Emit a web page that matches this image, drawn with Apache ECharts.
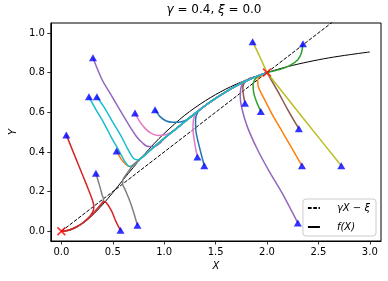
<!DOCTYPE html>
<html><head><meta charset="utf-8">
<script src="https://cdn.jsdelivr.net/npm/echarts@6/dist/echarts.min.js"></script>
<style>html,body{margin:0;padding:0;background:#fff}#c{width:388px;height:281px}</style>
</head><body><div id="c"></div>
<script>
// axis ticks
const xTicks = [0, 0.5, 1.0, 1.5, 2.0, 2.5, 3.0];
const yTicks = [0, 0.2, 0.4, 0.6, 0.8, 1.0];
const xRange = [-0.103, 3.109];
const yRange = [-0.049, 1.05];

// f(X)
const fX = [0, 0.1, 0.2, 0.3, 0.4, 0.5, 0.6, 0.7, 0.8, 0.9, 1.0, 1.2, 1.4, 1.6, 1.8, 2.0, 2.2, 2.4, 2.6, 2.8, 3.0];
const fY = [0, 0.010, 0.037, 0.080, 0.134, 0.195, 0.259, 0.322, 0.383, 0.441, 0.493, 0.585, 0.658, 0.717, 0.763, 0.800, 0.830, 0.854, 0.874, 0.890, 0.904];

// gamma X - xi
const lineX = [0, 3.0];
const lineY = [0, 1.2];

// shared paths the trajectories settle onto
const upperPath = [[0.60,0.262],[0.65,0.30],[0.7,0.335],[0.8,0.38],[0.9,0.425],[1.0,0.468],[1.1,0.51],[1.2,0.552],[1.3,0.594],[1.4,0.634],[1.5,0.67],[1.6,0.703],[1.7,0.733],[1.8,0.759],[1.9,0.781],[2.0,0.8]];
const lowerPath = [[0.41,0.152],[0.36,0.12],[0.31,0.09],[0.26,0.065],[0.21,0.043],[0.16,0.026],[0.11,0.013],[0.06,0.004],[0,0]];

// trajectories (own part, before joining a shared path)
const tBlue1   = [[0.911,0.613],[0.96,0.578],[1.02,0.556],[1.08,0.55],[1.14,0.55],[1.2,0.557],[1.26,0.575]];
const tOrange1 = [[0.537,0.405],[0.58,0.365],[0.625,0.338],[0.665,0.326]];
const tGreen1  = [[2.35,0.946],[2.335,0.9],[2.3,0.865],[2.22,0.835],[2.12,0.815],[2.0,0.8]];
const tRed1    = [[0.048,0.486],[0.15,0.355],[0.252,0.225],[0.3,0.16],[0.316,0.125],[0.305,0.098]];
const tPurple1 = [[0.307,0.875],[0.396,0.764],[0.48,0.69],[0.56,0.62],[0.64,0.55],[0.73,0.478],[0.79,0.445],[0.844,0.427],[0.9,0.427],[0.95,0.44]];
const tBrown1  = [[2.31,0.517],[2.2,0.615],[2.1,0.71],[2.0,0.8]];
const tPink1   = [[0.716,0.596],[0.76,0.555],[0.812,0.52],[0.87,0.495],[0.94,0.483],[1.0,0.485],[1.06,0.497],[1.12,0.518],[1.2,0.552]];
const tGray1   = [[0.336,0.293],[0.36,0.25],[0.38,0.215],[0.395,0.185],[0.41,0.16]];
const tOlive1  = [[1.86,0.956],[1.93,0.88],[2.0,0.8]];
const tCyan1   = [[0.268,0.678],[0.34,0.61],[0.412,0.547],[0.49,0.47],[0.556,0.41],[0.62,0.35],[0.665,0.326]];
const tBlue2   = [[1.39,0.33],[1.345,0.42],[1.31,0.5],[1.305,0.56],[1.33,0.603],[1.4,0.634]];
const tOrange2 = [[2.34,0.33],[2.24,0.42],[2.14,0.51],[2.06,0.58],[2.0,0.64],[1.95,0.69],[1.915,0.73],[1.91,0.76],[1.94,0.785],[2.0,0.8]];
const tGreen2  = [[1.94,0.604],[1.9,0.65],[1.87,0.7],[1.865,0.74],[1.89,0.77],[1.94,0.788],[2.0,0.8]];
const tRed2    = [[0.575,0.005],[0.53,0.05],[0.49,0.1],[0.45,0.135],[0.42,0.15]];
const tPurple2 = [[2.30,0.042],[2.15,0.19],[2.013,0.31],[1.9,0.42],[1.81,0.525],[1.76,0.61],[1.74,0.68],[1.75,0.73],[1.79,0.758]];
const tBrown2  = [[1.786,0.646],[1.77,0.69],[1.765,0.725],[1.785,0.752],[1.83,0.77]];
const tPink2   = [[1.323,0.375],[1.295,0.45],[1.28,0.52],[1.29,0.575],[1.33,0.61],[1.4,0.634]];
const tGray2   = [[0.74,0.03],[0.7,0.1],[0.66,0.16],[0.62,0.21],[0.595,0.24],[0.6,0.262]];
const tOlive2  = [[2.723,0.33],[2.36,0.565],[2.0,0.8]];
const tCyan2   = [[0.345,0.678],[0.412,0.628],[0.5,0.55],[0.585,0.476],[0.65,0.41],[0.70,0.368],[0.74,0.36],[0.8,0.378]];

const endPoints = [[0,0],[2.0,0.8]];

const colors = ['#1f77b4','#ff7f0e','#2ca02c','#d62728','#9467bd','#8c564b','#e377c2','#7f7f7f','#bcbd22','#17becf'];
// [own points, which shared path: 'up', 'low' or null]
const trajList = [
  [tBlue1,'up'],[tOrange1,'up'],[tGreen1,null],[tRed1,'low'],[tPurple1,'up'],
  [tBrown1,null],[tPink1,'up'],[tGray1,'low'],[tOlive1,null],[tCyan1,'up'],
  [tBlue2,'up'],[tOrange2,null],[tGreen2,null],[tRed2,'low'],[tPurple2,'up'],
  [tBrown2,'up'],[tPink2,'up'],[tGray2,'up'],[tOlive2,null],[tCyan2,'up']
];

function fullPath(own, kind) {
  const last = own[own.length - 1];
  let rest = [];
  if (kind === 'up') rest = upperPath.filter(p => p[0] > last[0] + 0.04);
  else if (kind === 'low') rest = lowerPath.filter(p => p[0] < last[0] - 0.03);
  return own.concat(rest);
}

const FONT = 'DejaVu Sans';
const series = [];
series.push({
  name: 'γX − ξ', type: 'line', data: lineX.map((x, i) => [x, lineY[i]]),
  symbol: 'none', itemStyle: {color: 'rgba(0,0,0,0)', borderWidth: 0},
  lineStyle: {color: '#000', width: 1, type: [3.7, 1.6]}, z: 2, silent: true
});
series.push({
  name: 'f(X)', type: 'line', data: fX.map((x, i) => [x, fY[i]]),
  symbol: 'none', smooth: 0.3, itemStyle: {color: 'rgba(0,0,0,0)', borderWidth: 0},
  lineStyle: {color: '#000', width: 1}, z: 2, silent: true
});
trajList.forEach((t, i) => {
  series.push({
    type: 'line', data: fullPath(t[0], t[1]), symbol: 'none', smooth: 0.3,
    lineStyle: {color: colors[i % 10], width: 1.5}, z: 3, silent: true
  });
});
series.push({
  type: 'scatter', data: trajList.map(t => t[0][0]), symbol: 'triangle', symbolSize: [8, 7],
  itemStyle: {color: '#0000ff'}, z: 5, silent: true
});
series.push({
  type: 'scatter', data: endPoints,
  symbol: 'path://M0,1.3 L1.3,0 L5,3.7 L8.7,0 L10,1.3 L6.3,5 L10,8.7 L8.7,10 L5,6.3 L1.3,10 L0,8.7 L3.7,5 Z',
  symbolSize: 9, itemStyle: {color: '#ff0000'}, z: 6, silent: true
});

const chart = echarts.init(document.getElementById('c'), null, {renderer: 'canvas'});
chart.setOption({
  animation: false,
  backgroundColor: '#fff',
  title: {
    text: '{i|γ} = 0.4, {i|ξ} = 0.0', left: 214, top: 4, padding: 0, textAlign: 'center',
    textStyle: {fontFamily: FONT, fontSize: 12, fontWeight: 'normal', color: '#000',
      rich: {i: {fontFamily: FONT, fontSize: 12, fontStyle: 'italic', color: '#000'}}}
  },
  legend: {
    data: ['γX − ξ', 'f(X)'], orient: 'vertical', right: 12, bottom: 45,
    itemWidth: 12, itemHeight: 10, itemGap: 9, padding: [4, 6, 4, 4],
    itemStyle: {color: 'rgba(0,0,0,0)', borderWidth: 0, opacity: 0},
    borderColor: '#cccccc', borderWidth: 1, borderRadius: 3, backgroundColor: 'rgba(255,255,255,0.8)',
    textStyle: {fontFamily: FONT, fontSize: 10, fontStyle: 'italic', color: '#000', padding: [0, 0, 0, 12]}
  },
  grid: {left: 46, top: 23, width: 335, height: 218, show: true, borderColor: '#000', borderWidth: 1, containLabel: false},
  xAxis: {
    type: 'value', min: xRange[0], max: xRange[1],
    axisLine: {show: true, onZero: false, lineStyle: {color: '#000', width: 1}},
    splitLine: {show: false},
    axisTick: {show: true, customValues: xTicks, length: 3.5, lineStyle: {color: '#000', width: 0.8}},
    axisLabel: {customValues: xTicks, formatter: v => v.toFixed(1), margin: 6, fontSize: 10, color: '#000', fontFamily: FONT},
    name: 'X', nameLocation: 'middle', nameGap: 19,
    nameTextStyle: {fontFamily: FONT, fontSize: 10, fontStyle: 'italic', color: '#000'}
  },
  yAxis: {
    type: 'value', min: yRange[0], max: yRange[1],
    axisLine: {show: true, onZero: false, lineStyle: {color: '#000', width: 1}},
    splitLine: {show: false},
    axisTick: {show: true, customValues: yTicks, length: 3.5, lineStyle: {color: '#000', width: 0.8}},
    axisLabel: {customValues: yTicks, formatter: v => v.toFixed(1), margin: 6, fontSize: 10, color: '#000', fontFamily: FONT},
    name: 'Y', nameLocation: 'middle', nameGap: 27,
    nameTextStyle: {fontFamily: FONT, fontSize: 10, fontStyle: 'italic', color: '#000'}
  },
  series: series
});
</script></body></html>
